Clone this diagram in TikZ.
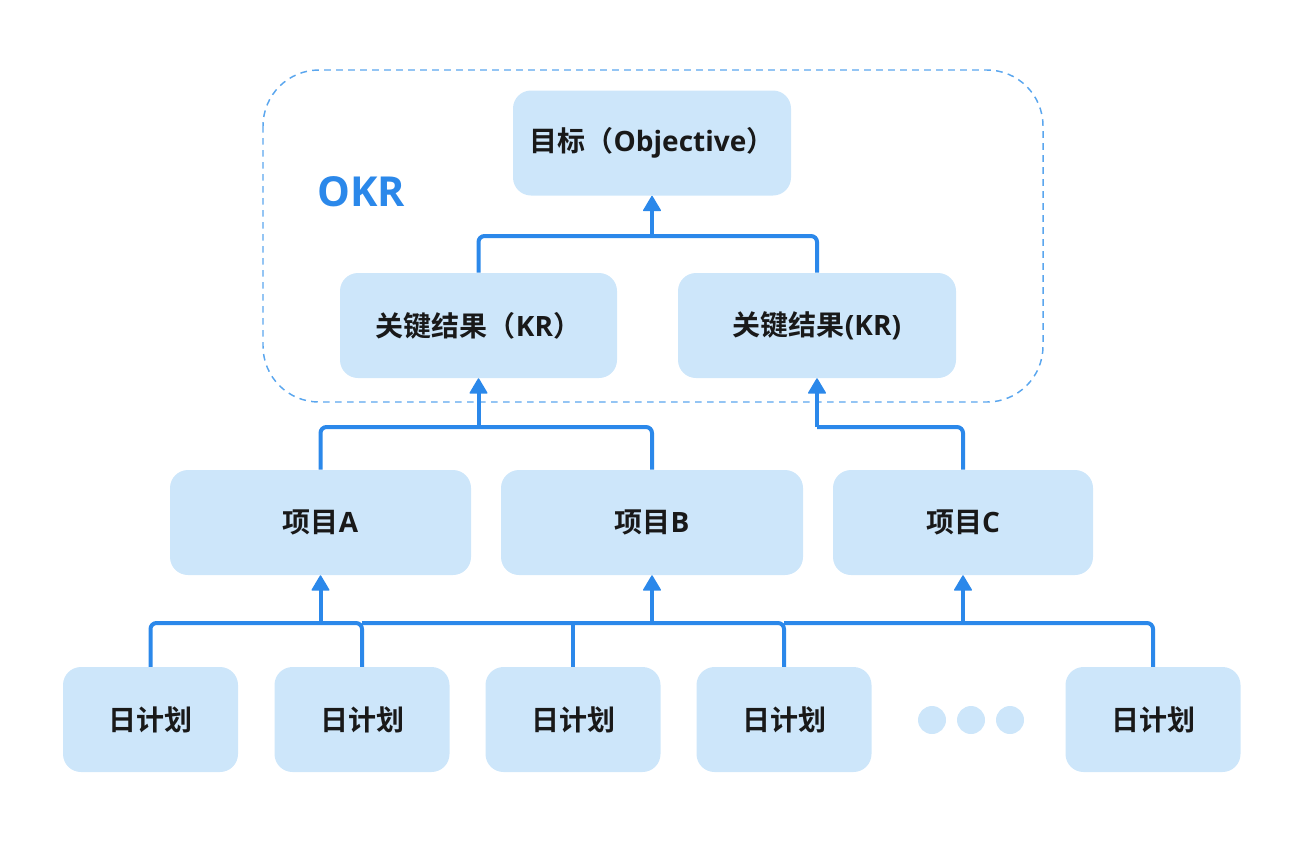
\documentclass[tikz,border=0pt]{standalone}
\usepackage{fontspec}
\setmainfont{Open Sans}[BoldFont={* Bold}]
\newfontfamily\cjk{Noto Sans CJK SC}[BoldFont={* Bold}]
\usepackage{tikz}
\usepackage{xcolor}
\usetikzlibrary{arrows.meta}

\definecolor{boxfill}{HTML}{CDE6FA}
\definecolor{linkblue}{HTML}{2B88EA}
\definecolor{dashblue}{HTML}{5AA6EE}
\newcommand{\zh}[1]{{\cjk\bfseries #1}}

\tikzset{
    card/.style={fill=boxfill, rounded corners=13.5pt, minimum height=78.75pt,
        font=\bfseries\fontsize{21}{24}\selectfont, text=black!90, inner sep=0pt},
    link/.style={draw=linkblue, line width=3pt, rounded corners=4.5pt},
    uplink/.style={draw=linkblue, line width=3pt, -{Triangle[width=14pt, length=12pt, line width=1pt, round]}}
}

\begin{document}
\begin{tikzpicture}[x=0.75pt, y=-0.75pt]
    \useasboundingbox (0,0) rectangle (1308,844);

    % OKR frame
    \draw[dashblue, line width=1.1pt, dashed, dash pattern=on 5pt off 4pt, rounded corners=42pt]
        (263,70) rectangle (1043,402);
    \node[text=linkblue, font=\bfseries\fontsize{31}{34}\selectfont] (okr) at (361,192) {OKR};

    % Objective and key results
    \node[card, minimum width=208.5pt] (obj) at (652,143) {\zh{目标（}Objective\zh{）}};
    \node[card, minimum width=207.75pt] (kr1) at (478.5,325.5) {\zh{关键结果（}KR\zh{）}};
    \node[card, minimum width=208.5pt] (kr2) at (817,325.5) {\zh{关键结果}(KR)};

    % Projects
    \node[card, minimum width=225.75pt] (pa) at (320.5,522.5) {\zh{项目}A};
    \node[card, minimum width=226.5pt] (pb) at (652,522.5) {\zh{项目}B};
    \node[card, minimum width=195pt] (pc) at (963,522.5) {\zh{项目}C};

    % Daily plans
    \foreach \name/\x in {d1/150.5, d2/362, d3/573, d4/784, d5/1153}
        \node[card, minimum width=131.25pt] (\name) at (\x,719.5) {\zh{日计划}};
    \foreach \x [count=\i] in {932, 971, 1010}
        \fill[boxfill] (\x,720) circle (10.5pt) coordinate (dot\i);

    % Junctions
    \coordinate (j0) at (652,236);
    \coordinate (j1) at (478.5,427);
    \coordinate (j2) at (817,427);
    \coordinate (ja) at (320.5,623);
    \coordinate (jb) at (652,623);
    \coordinate (jc) at (963,623);

    % KR -> Objective
    \draw[link] (kr1.north) |- (j0) -| (kr2.north);
    \draw[uplink] (j0) -- (obj.south);

    % Projects -> KR
    \draw[link] (pa.north) |- (j1) -| (pb.north);
    \draw[uplink] (j1) -- (kr1.south);
    \draw[link] (pc.north) |- (j2);
    \draw[uplink] (j2) -- (kr2.south);

    % Daily plans -> projects
    \draw[link] (d1.north) |- (ja) -| (d2.north);
    \draw[uplink] (ja) -- (pa.south);
    \draw[link] (d2.north |- jb) -| (d4.north);
    \draw[link] (d3.north) -- (d3.north |- jb);
    \draw[uplink] (jb) -- (pb.south);
    \draw[link] (d4.north |- jc) -| (d5.north);
    \draw[uplink] (jc) -- (pc.south);
\end{tikzpicture}
\end{document}
